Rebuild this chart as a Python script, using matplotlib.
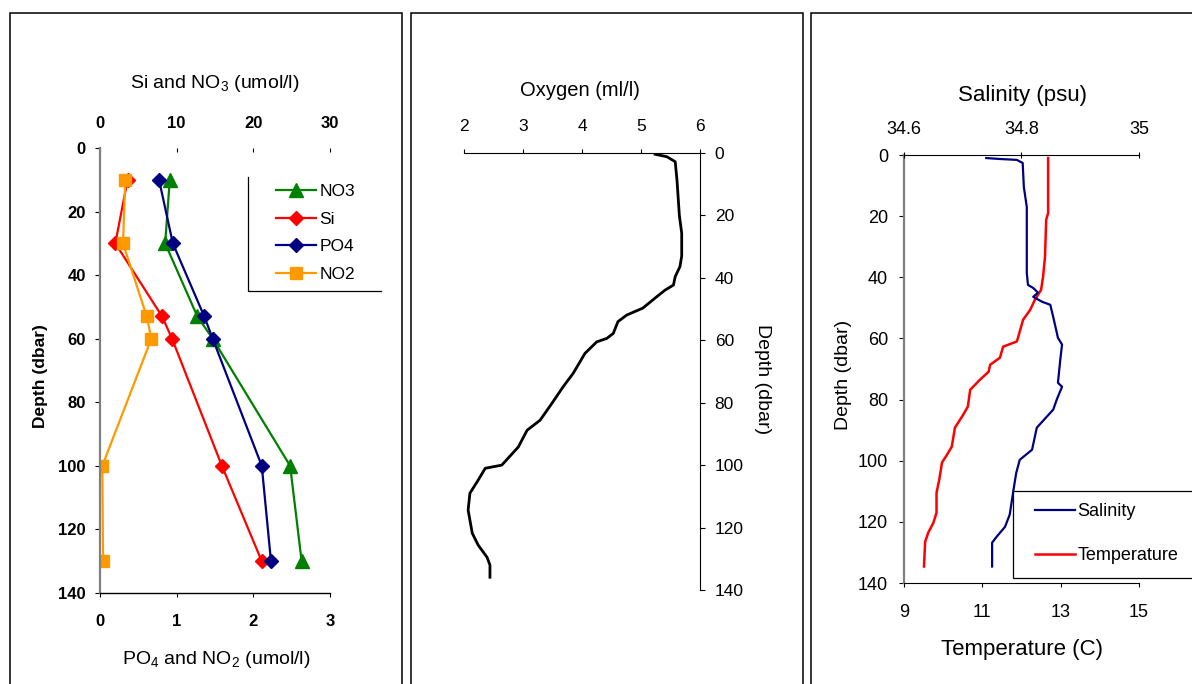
import matplotlib
matplotlib.use("Agg")
import matplotlib.pyplot as plt
from matplotlib.lines import Line2D
from matplotlib.patches import Rectangle

plt.rcParams['font.family'] = ['Liberation Sans', 'DejaVu Sans']
plt.rcParams['mathtext.fontset'] = 'custom'
plt.rcParams['mathtext.rm'] = 'Liberation Sans'
plt.rcParams['mathtext.it'] = 'Liberation Sans'
plt.rcParams['mathtext.bf'] = 'Liberation Sans:bold'

# nutrient samples (bottle depths)
nut_depth = [10, 30, 53, 60, 100, 130]
no3 = [9.1, 8.5, 12.7, 14.7, 24.8, 26.3]      # umol/l, top axis
si = [3.6, 2.0, 8.1, 9.4, 15.9, 21.1]          # umol/l, top axis
po4 = [0.77, 0.95, 1.36, 1.47, 2.11, 2.23]     # umol/l, bottom axis
no2 = [0.33, 0.30, 0.61, 0.67, 0.03, 0.04]     # umol/l, bottom axis

# CTD oxygen profile
oxy_depth = [0.4, 1.2, 2.8, 8.7, 20, 25.7, 33, 36.4, 39.6, 42.3, 43.9, 46, 49.7,
             51.9, 54, 57.8, 59.4, 60.5, 64.2, 70.6, 74.9, 80.2, 85.6, 88.8, 94.2,
             100, 101, 104.8, 109, 114.4, 121.8, 125.6, 129.5, 132, 135.9]
oxygen = [5.24, 5.44, 5.58, 5.61, 5.65, 5.69, 5.69, 5.66, 5.58, 5.55, 5.41, 5.27, 5.03,
          4.76, 4.61, 4.53, 4.42, 4.25, 4.05, 3.85, 3.68, 3.49, 3.29, 3.07, 2.92,
          2.64, 2.36, 2.24, 2.10, 2.07, 2.14, 2.24, 2.39, 2.44, 2.44]

# CTD salinity profile
sal_depth = [1, 1.3, 1.6, 2.6, 10.5, 17, 38.6, 42.5, 43.5, 45, 46.4, 48, 49, 53,
             57.2, 59.8, 62, 67, 74.5, 75.8, 80, 83.3, 85.6, 89.2, 96.4, 99.7, 104,
             110, 117.6, 121.6, 124.8, 126.8, 134.6]
salinity = [34.740, 34.763, 34.792, 34.802, 34.804, 34.809, 34.809, 34.811, 34.820,
            34.828, 34.820, 34.835, 34.849, 34.854, 34.859, 34.862, 34.869, 34.866,
            34.862, 34.869, 34.860, 34.854, 34.843, 34.826, 34.818, 34.797, 34.791,
            34.786, 34.780, 34.772, 34.758, 34.750, 34.750]

# CTD temperature profile
tmp_depth = [1, 19, 21.2, 33.3, 39.9, 44.1, 47.4, 50.7, 53.9, 59.8, 61, 62.7, 66.3,
             68.6, 70.9, 73.5, 76.8, 82.3, 85, 89.2, 95.4, 98, 100.6, 106.2, 110.5,
             117, 120.3, 123.5, 126.5, 134.6]
temperature = [12.68, 12.68, 12.63, 12.60, 12.55, 12.50, 12.34, 12.22, 12.04, 11.91,
               11.88, 11.53, 11.45, 11.20, 11.16, 10.94, 10.69, 10.63, 10.51, 10.30,
               10.22, 10.10, 9.97, 9.90, 9.83, 9.83, 9.75, 9.62, 9.54, 9.51]

W, H = 1192, 684


def rect(x0, y0, x1, y1):
    return [x0 / W, 1 - y1 / H, (x1 - x0) / W, (y1 - y0) / H]


def fx(x):
    return x / W


def fy(y):
    return 1 - y / H


fig = plt.figure(figsize=(W / 100, H / 100), dpi=100)

# panel frames
for x0, x1 in [(10, 402), (411, 803), (811, 1220)]:
    fig.patches.append(Rectangle((fx(x0), fy(720)), fx(x1) - fx(x0), fy(13) - fy(720),
                                 transform=fig.transFigure, fill=False,
                                 edgecolor='black', lw=1.1))

# ---------- panel 1: nutrients ----------
ax1 = fig.add_axes(rect(100, 148, 330, 593))
ax1t = ax1.twiny()
ax1.set_zorder(ax1t.get_zorder() + 1)
ax1.patch.set_visible(False)

ax1.set_xlim(0, 3)
ax1.set_ylim(140, 0)
ax1t.set_xlim(0, 30)
ax1.set_xticks([0, 1, 2, 3])
ax1.set_yticks(range(0, 141, 20))
ax1t.set_xticks([0, 10, 20, 30])
for s in ['top', 'right']:
    ax1.spines[s].set_visible(False)
for s in ax1t.spines.values():
    s.set_visible(False)
ax1.spines['left'].set_color('#808080')
ax1.spines['left'].set_linewidth(1.6)
ax1.spines['bottom'].set_linewidth(1.0)
ax1.tick_params(axis='y', direction='out', length=3.6, pad=6.5, labelsize=12)
ax1.tick_params(axis='x', direction='out', length=3, pad=12, labelsize=12)
ax1t.tick_params(axis='x', direction='in', length=3, pad=12, labelsize=12)
for lab in ax1.get_xticklabels() + ax1.get_yticklabels() + ax1t.get_xticklabels():
    lab.set_fontweight('bold')

l_no3, = ax1t.plot(no3, nut_depth, color='#008000', lw=1.6, marker='^', ms=10, label='NO3')
l_si, = ax1t.plot(si, nut_depth, color='#FF0000', lw=1.6, marker='D', ms=7, label='Si')
l_po4, = ax1.plot(po4, nut_depth, color='#000080', lw=1.6, marker='D', ms=7, label='PO4')
l_no2, = ax1.plot(no2, nut_depth, color='#FF9900', lw=1.6, marker='s', ms=8, label='NO2')

fig.text(fx(215), fy(84), 'Si and NO$_3$ (umol/l)', ha='center', va='center', fontsize=14)
fig.text(fx(216), fy(660), 'PO$_4$ and NO$_2$ (umol/l)', ha='center', va='center', fontsize=14)
fig.text(fx(40), fy(376), 'Depth (dbar)', ha='center', va='center', rotation=90,
         fontsize=12.5, fontweight='bold')

fig.legend(handles=[l_no3, l_si, l_po4, l_no2], loc='upper left',
           bbox_to_anchor=(fx(276), fy(184)), frameon=False, borderpad=0,
           borderaxespad=0, handlelength=2.3, handletextpad=0.2,
           labelspacing=0.72, fontsize=12.5)
fig.add_artist(Line2D([fx(248), fx(248), fx(381)], [fy(177), fy(291), fy(291)],
                      transform=fig.transFigure, color='black', lw=0.9))

# ---------- panel 2: oxygen ----------
ax2 = fig.add_axes(rect(464, 153, 700, 590))
ax2.set_xlim(2, 6)
ax2.set_ylim(140, 0)
ax2.set_xticks([2, 3, 4, 5, 6])
ax2.set_yticks(range(0, 141, 20))
ax2.xaxis.tick_top()
ax2.yaxis.tick_right()
for s in ['left', 'bottom']:
    ax2.spines[s].set_visible(False)
ax2.tick_params(axis='x', direction='out', length=3, pad=11, labelsize=12.5)
ax2.tick_params(axis='y', direction='out', length=3.6, pad=7, labelsize=12.5)
ax2.plot(oxygen, oxy_depth, color='black', lw=2.0)

fig.text(fx(580), fy(90), 'Oxygen (ml/l)', ha='center', va='center', fontsize=14.5)
fig.text(fx(762), fy(379), 'Depth (dbar)', ha='center', va='center', rotation=270,
         fontsize=14)

# ---------- panel 3: salinity and temperature ----------
ax3 = fig.add_axes(rect(904, 155, 1139, 583))
ax3t = ax3.twiny()
ax3.set_xlim(9, 15)
ax3.set_ylim(140, 0)
ax3t.set_xlim(34.6, 35)
ax3.set_xticks([9, 11, 13, 15])
ax3.set_yticks(range(0, 141, 20))
ax3t.set_xticks([34.6, 34.8, 35])
ax3t.set_xticklabels(['34.6', '34.8', '35'])
for s in ['top', 'right']:
    ax3.spines[s].set_visible(False)
for s in ['left', 'right', 'bottom']:
    ax3t.spines[s].set_visible(False)
ax3.spines['left'].set_color('#808080')
ax3.spines['left'].set_linewidth(1.6)
ax3.tick_params(axis='y', direction='out', length=3.6, pad=8, labelsize=13)
ax3.tick_params(axis='x', direction='out', length=3, pad=12, labelsize=13)
ax3t.tick_params(axis='x', direction='inout', length=4, pad=10, labelsize=13)

l_tmp, = ax3.plot(temperature, tmp_depth, color='#FF0000', lw=1.8, label='Temperature')
l_sal, = ax3t.plot(salinity, sal_depth, color='#000080', lw=1.6, label='Salinity')

fig.text(fx(1022), fy(95), 'Salinity (psu)', ha='center', va='center', fontsize=16)
fig.text(fx(1022), fy(649), 'Temperature (C)', ha='center', va='center', fontsize=16)
fig.text(fx(843), fy(375), 'Depth (dbar)', ha='center', va='center', rotation=90,
         fontsize=14)

fig.patches.append(Rectangle((fx(1013), fy(578)), fx(1230) - fx(1013), fy(491) - fy(578),
                             transform=fig.transFigure, facecolor='white',
                             edgecolor='black', lw=0.9, zorder=5))
leg3 = fig.legend(handles=[l_sal, l_tmp], loc='upper left',
                  bbox_to_anchor=(fx(1035), fy(503)), frameon=False, borderpad=0,
                  borderaxespad=0, handlelength=2.2, handletextpad=0.15,
                  labelspacing=1.5, fontsize=13)
leg3.set_zorder(6)

fig.savefig('out.png', dpi=100)
